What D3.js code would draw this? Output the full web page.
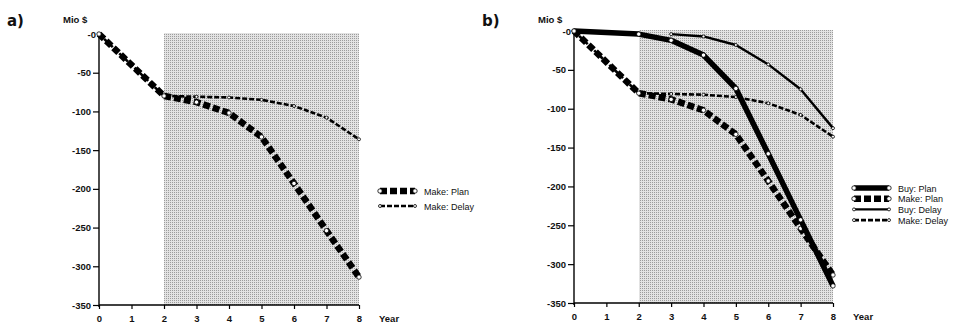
<!DOCTYPE html>
<html>
<head>
<meta charset="utf-8">
<script src="https://cdn.jsdelivr.net/npm/d3@7"></script>
<style>
  body { margin: 0; background: #fff; }
  svg { display: block; }
  .tick text { font-family: "Liberation Sans", Arial, sans-serif; font-weight: bold; font-size: 9.5px; fill: #111; }
  .lbl { font-family: "Liberation Sans", Arial, sans-serif; font-weight: bold; font-size: 9.5px; fill: #111; }
  .leg { font-family: "Liberation Sans", Arial, sans-serif; font-size: 9px; fill: #111; }
  .panel { font-family: "DejaVu Sans", sans-serif; font-weight: bold; font-size: 15px; fill: #111; }
</style>
</head>
<body>
<div id="chart"></div>
<script>
// Data (Mio $ per year), null = no point drawn that year
const years = [0, 1, 2, 3, 4, 5, 6, 7, 8];
const yTicks = [0, -50, -100, -150, -200, -250, -300, -350];
const makePlan = [0, null, -80, -88, -102, -133, -193, -254, -314];
const makeDelay = [0, null, -80, -81, -82, -85, -93, -108, -136];
const buyPlan = [0, null, -4, -12, -31, -74, -158, -243, -328];
const buyDelay = [null, null, null, -4, -7, -18, -43, -75, -125];
const shadeFrom = 2;

const styles = {
    "Buy: Plan": { data: buyPlan, width: 5.5, dash: null, r: 2.2 },
    "Make: Plan": { data: makePlan, width: 6.5, dash: "7,3", r: 2.2 },
    "Buy: Delay": { data: buyDelay, width: 2.4, dash: null, r: 1.5 },
    "Make: Delay": { data: makeDelay, width: 2.6, dash: "5,2", r: 1.5 }
};

const svg = d3.select("#chart").append("svg")
    .attr("width", 962)
    .attr("height", 327);

// halftone pattern for the shaded period
const pat = svg.append("defs").append("pattern")
    .attr("id", "stipple")
    .attr("width", 2).attr("height", 2)
    .attr("patternUnits", "userSpaceOnUse");
pat.append("rect").attr("width", 2).attr("height", 2).attr("fill", "#e3e3e3");
pat.append("rect").attr("width", 1).attr("height", 1).attr("fill", "#9c9c9c");

function drawPanel(opt) {
    const x = d3.scaleLinear().domain([0, 8]).range([opt.left, opt.right]);
    const y = d3.scaleLinear().domain([0, -350]).range([opt.top, opt.bottom]);
    const g = svg.append("g");

    g.append("text").attr("class", "panel").attr("x", opt.left - 92).attr("y", 26).text(opt.name);
    g.append("text").attr("class", "lbl").attr("x", opt.left - 36).attr("y", 23).text("Mio $");

    // shaded area
    g.append("rect")
        .attr("x", x(shadeFrom))
        .attr("y", y(0) - 1)
        .attr("width", x(8) - x(shadeFrom))
        .attr("height", y(-350) - y(0) + 1)
        .attr("fill", "url(#stipple)")
        .attr("shape-rendering", "crispEdges");

    // axes
    const yAxis = g.append("g")
        .attr("transform", `translate(${opt.left},0)`)
        .call(d3.axisLeft(y).tickValues(yTicks).tickSize(6).tickPadding(2)
            .tickFormat(d => d === 0 ? "-0" : d));
    yAxis.select(".domain").attr("stroke-width", 1.4).attr("d", `M0,${opt.top - 2}V${opt.bottom + 2}`);
    yAxis.selectAll(".tick line").attr("stroke-width", 1.2);
    yAxis.selectAll(".tick").filter(d => d === 0).select("line").remove();
    yAxis.selectAll(".tick").filter(d => d === 0).select("text").attr("x", -3);

    const xAxis = g.append("g")
        .attr("transform", `translate(0,${opt.bottom})`)
        .call(d3.axisBottom(x).tickValues(years).tickSize(4).tickPadding(6));
    xAxis.select(".domain").attr("stroke-width", 1.4).attr("d", `M${opt.left},0H${opt.right}`);
    xAxis.selectAll(".tick line").attr("stroke-width", 1.2);
    xAxis.selectAll(".tick text").attr("font-size", "10px");

    g.append("text").attr("class", "lbl").attr("x", opt.right + 20).attr("y", opt.bottom + 17).text("Year");

    const line = d3.line().x(d => x(d.x)).y(d => y(d.v));

    opt.order.forEach(name => {
        const s = styles[name];
        const pts = s.data.map((v, i) => ({ x: years[i], v: v })).filter(p => p.v !== null);
        g.append("path")
            .datum(pts)
            .attr("fill", "none")
            .attr("stroke", "#000")
            .attr("stroke-width", s.width)
            .attr("stroke-dasharray", s.dash)
            .attr("stroke-linejoin", "round")
            .attr("d", line);
        g.selectAll(null)
            .data(pts)
            .enter()
            .append("circle")
            .attr("cx", d => x(d.x))
            .attr("cy", d => y(d.v))
            .attr("r", s.r)
            .attr("fill", "#fff")
            .attr("stroke", "#000")
            .attr("stroke-width", 0.8);
    });

    // legend
    opt.legend.forEach((name, i) => {
        const s = styles[name];
        const ly = opt.legendY + i * opt.legendStep;
        const lx0 = opt.right + 21, lx1 = opt.right + 56;
        g.append("line")
            .attr("x1", lx0).attr("x2", lx1).attr("y1", ly).attr("y2", ly)
            .attr("stroke", "#000")
            .attr("stroke-width", s.width)
            .attr("stroke-dasharray", s.dash);
        [lx0, lx1].forEach(cx => {
            g.append("circle").attr("cx", cx).attr("cy", ly).attr("r", s.r)
                .attr("fill", "#fff").attr("stroke", "#000").attr("stroke-width", 0.8);
        });
        g.append("text").attr("class", "leg")
            .attr("x", lx1 + 9).attr("y", ly + 3.5).text(name);
    });
}

drawPanel({
    name: "a)", left: 99, right: 359, top: 34, bottom: 305,
    order: ["Make: Delay", "Make: Plan"],
    legend: ["Make: Plan", "Make: Delay"], legendY: 191, legendStep: 15
});

drawPanel({
    name: "b)", left: 574, right: 833, top: 31, bottom: 303,
    order: ["Buy: Delay", "Make: Delay", "Make: Plan", "Buy: Plan"],
    legend: ["Buy: Plan", "Make: Plan", "Buy: Delay", "Make: Delay"], legendY: 188, legendStep: 10.7
});
</script>
</body>
</html>
